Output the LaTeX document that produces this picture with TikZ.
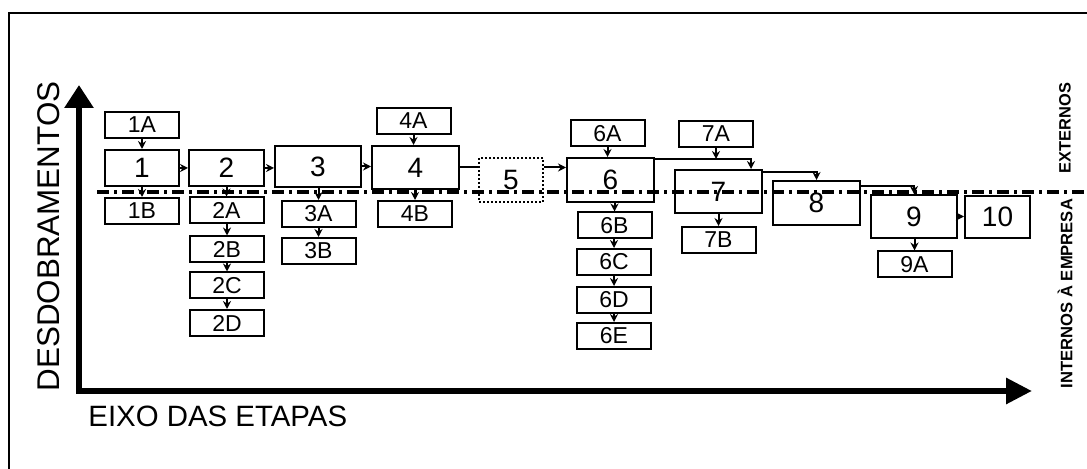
\documentclass[tikz,border=0pt]{standalone}
\usepackage{fontspec}
\setmainfont{Liberation Sans}
\usetikzlibrary{arrows.meta,calc}

\tikzset{
  stage/.style={draw,line width=1pt,inner sep=0pt,font=\fontsize{14}{14}\selectfont},
  sub/.style={draw,line width=1pt,inner sep=0pt,minimum width=37pt,minimum height=13pt,font=\fontsize{11.5}{11.5}\selectfont},
  link/.style={line width=1pt,-{Stealth[length=4pt,width=4pt]}},
  axis/.style={line width=3pt,line join=miter}
}

\begin{document}
\begin{tikzpicture}[x=0.5pt,y=-0.5pt]
\useasboundingbox (0,0) rectangle (1087,469);
\draw[line width=1pt] (9,469) -- (9,13) -- (1087,13);
% stages
\foreach \n/\x/\y/\w/\h in {1/142/168/74/36, 2/226.5/168/75/36, 3/318/166.5/86/41, 4/415.5/167.5/87/43, 6/610.5/180/87/44, 7/718.5/191.5/87/43, 8/816.5/203/87/44, 9/914/216.5/86/43, 10/997.5/217/65/42}
  \node[stage,minimum width=\w*0.5pt,minimum height=\h*0.5pt] (s\n) at (\x,\y) {\n};
\node[stage,dash pattern=on 1pt off 1pt,minimum width=32pt,minimum height=22pt] (s5) at (511,180) {5};
% sub-steps
\foreach \n/\x/\y in {1A/142/125, 1B/142/211, 2A/226.5/210.5, 2B/227/249.5, 2C/227/285.5, 2D/227/323, 3A/318.5/214, 3B/318.5/251, 4A/413.5/121, 4B/415/214, 6A/607.5/133.5, 6B/614.5/225.5, 6C/614/262, 6D/614/300, 6E/614/336, 7A/716/134, 7B/718.5/240, 9A/914.5/264.5}
  \node[sub] (s\n) at (\x,\y) {\n};
% main sequence
\draw[link] (s1) -- (s2);
\draw[link] (s2.east) -- (s2.east -| s3.west);
\draw[link] (s3.east) -- (s3.east -| s4.west);
\draw[line width=1pt] (s4.east) -- (s4.east -| s5.west);
\draw[link] (s4.east -| s5.east) -- (s4.east -| s6.west);
\draw[link] ([yshift=-1pt]s6.north east) coordinate (l6) -| ([xshift=-6pt]s7.north east);
\draw[link] ([yshift=-1.5pt]s7.north east) -| (s8.north);
\draw[link] ([yshift=-3pt]s8.north east) -| (s9.north);
\draw[link] (s9.east) -- (s9.east -| s10.west);
% branches
\foreach \a/\b in {1A/1, 4A/4, 6A/6} \draw[link] (s\a.south) -- (s\a.south |- s\b.north);
\foreach \a/\b in {1/1B, 2/2A, 3/3A, 4/4B, 6/6B, 7/7B, 9/9A, 2A/2B, 2B/2C, 2C/2D, 3A/3B, 6B/6C, 6C/6D, 6D/6E}
  \draw[link] (s\b.north |- s\a.south) -- (s\b.north);
\draw[link] (s7A.south) -- (s7A.south |- l6);
% axes
\coordinate (o) at (79,391);
\draw[axis,{Triangle[length=11.5pt,width=14pt]}-{Triangle[length=13pt,width=12.5pt]}] (79,85) -- (o) -- (1032,391);
% limit externos / internos
\draw[line width=2pt,dash pattern=on 6pt off 2.5pt on 1.5pt off 2.5pt] (97,192) -- (1087,192);
\node[rotate=90,inner sep=0pt,font=\fontsize{15.7}{16}\selectfont] (ylab) at (49,236.5) {DESDOBRAMENTOS};
\node[anchor=west,inner sep=0pt,font=\fontsize{14.7}{15}\selectfont] (xlab) at (88,416) {EIXO DAS ETAPAS};
\node[rotate=90,inner sep=0pt,font=\bfseries\fontsize{8.2}{9}\selectfont] (ext) at (1065,128) {EXTERNOS};
\node[rotate=90,inner sep=0pt,font=\bfseries\fontsize{8.3}{9}\selectfont] (int) at (1065,293.5) {INTERNOS À EMPRESA};
\end{tikzpicture}
\end{document}
